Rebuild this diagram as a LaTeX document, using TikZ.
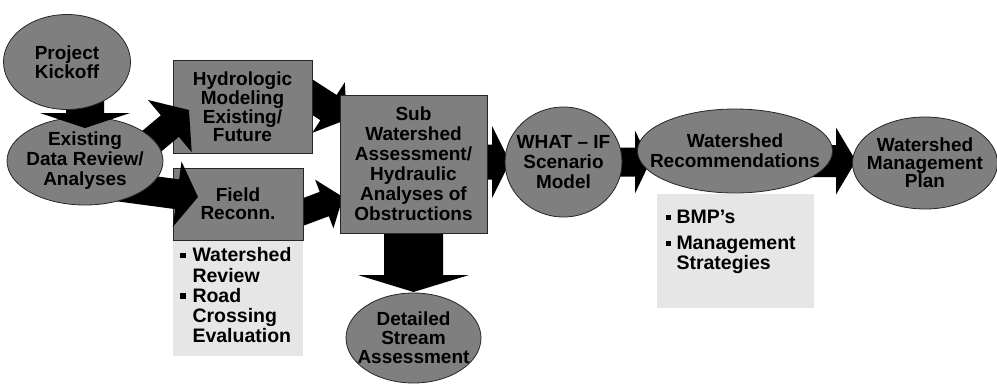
\documentclass[tikz,border=0pt]{standalone}
\usepackage{fontspec}
\setmainfont{Liberation Sans}
\usetikzlibrary{positioning,shapes.geometric,calc}
\definecolor{shapegray}{HTML}{7F7F7F}
\definecolor{notegray}{HTML}{E6E6E6}
\definecolor{arrowblack}{HTML}{000000}
\pgfdeclarelayer{back}
\pgfdeclarelayer{front}
\pgfdeclarelayer{top}
\pgfsetlayers{back,main,front,top}
% block arrow: from, to, half shaft, half head, head length
\newcommand{\blockarrow}[5]{%
  \coordinate (ba) at ($(#2)!#5!(#1)$);
  \fill[arrowblack] ($(#1)!#3!90:(#2)$) -- ($(ba)!#3!90:(#2)$) -- ($(ba)!#4!90:(#2)$) -- (#2)
    -- ($(ba)!#4!-90:(#2)$) -- ($(ba)!#3!-90:(#2)$) -- ($(#1)!#3!-90:(#2)$) -- cycle;}
\newcommand{\sqb}{\rule[3.5pt]{5.5pt}{5.5pt}}

\begin{document}
\begin{tikzpicture}[
  x=1pt, y=-1pt,
  lead/.style={font=\fontsize{19}{#1}\selectfont\bfseries},
  oval/.style={ellipse, draw=black!85, line width=0.8pt, fill=shapegray, inner sep=-30pt, align=center, lead=20},
  panel/.style={rectangle, draw=black!85, line width=0.8pt, fill=shapegray, inner sep=0pt, align=center, lead=20},
  note/.style={rectangle, fill=notegray, inner ysep=0pt, align=left, font=\fontsize{19.5}{20}\selectfont\bfseries}
]
  \useasboundingbox (0,0) rectangle (997,384);

  \node[panel, minimum width=139, minimum height=93, lead=17] (hydro) at (242.5,106.5) {Hydrologic\\Modeling\\Existing/\\Future};
  \node[panel, minimum width=130, minimum height=72, lead=18] (field) at (238,204) {Field\\Reconn.};
  \node[note, below=0pt of field, minimum width=130, minimum height=115, inner xsep=7pt, text width=116] (fieldnote)
    {\begin{tabular}{@{}l@{\hspace{7pt}}l@{}}\sqb & Watershed\\ & Review\\ \sqb & Road\\ & Crossing\\ & Evaluation\end{tabular}};
  \node[panel, minimum width=147, minimum height=138] (sub) at (413.5,164) {Sub\\Watershed\\Assessment/\\Hydraulic\\Analyses of\\Obstructions};
  \node[oval, minimum width=135, minimum height=90, lead=19] (stream) at (413.5,338) {Detailed\\Stream\\Assessment};
  \node[oval, minimum width=117, minimum height=110] (whatif) at (563.5,162) {WHAT -- IF\\Scenario\\Model};
  \node[oval, minimum width=195, minimum height=84] (recom) at (735,151) {Watershed\\Recommendations};
  \node[note, below=0pt of recom, minimum width=157, minimum height=114, inner xsep=9pt, text width=139] (recnote)
    {\begin{tabular}{@{}l@{\hspace{5.5pt}}l@{}}\sqb & BMP's\\[6pt] \sqb & Management\\ & Strategies\\[16pt]\end{tabular}};
  \node[oval, minimum width=145, minimum height=92, lead=18] (plan) at (925,163) {Watershed\\Management\\Plan};
  \begin{pgfonlayer}{front}
    \node[oval, minimum width=156, minimum height=88] (exist) at (85,161) {Existing\\Data Review/\\Analyses};
  \end{pgfonlayer}
  \begin{pgfonlayer}{top}
    \node[oval, minimum width=127, minimum height=95, lead=15] (kick) at (67,62) {Project\\Kickoff};
  \end{pgfonlayer}

  % arrow ends
  \coordinate (a1) at (85,62);    \coordinate (t1) at (85,128);
  \coordinate (a2) at (109,177);  \coordinate (t2) at (189,110);
  \coordinate (a3) at (108,185);  \coordinate (t3) at (198,197);
  \coordinate (a4) at (295,86);   \coordinate (t4) at (347,119.5);
  \coordinate (a5) at (287,218);  \coordinate (t5) at (343,197);
  \coordinate (t6) at (413.5,292);
  \coordinate (a7) at (413.5,162); \coordinate (t7) at (510,162);
  \coordinate (t8) at (650,162);
  \coordinate (a9) at (735,161);  \coordinate (t9) at (856,161);

  \blockarrow{a2}{t2}{14pt}{34pt}{25pt}
  \blockarrow{a3}{t3}{15pt}{33pt}{21pt}
  \begin{pgfonlayer}{front}
    \blockarrow{a1}{t1}{19pt}{45pt}{15pt}
  \end{pgfonlayer}
  \begin{pgfonlayer}{back}
    \blockarrow{a4}{t4}{15pt}{30pt}{22pt}
    \blockarrow{a5}{t5}{13pt}{26pt}{20pt}
    \blockarrow{sub}{t6}{29.5pt}{55.5pt}{17pt}
    \blockarrow{a7}{t7}{17.5pt}{36pt}{18pt}
    \blockarrow{whatif}{t8}{14.5pt}{31.5pt}{15pt}
    \blockarrow{a9}{t9}{16pt}{33.5pt}{20pt}
  \end{pgfonlayer}
\end{tikzpicture}
\end{document}
